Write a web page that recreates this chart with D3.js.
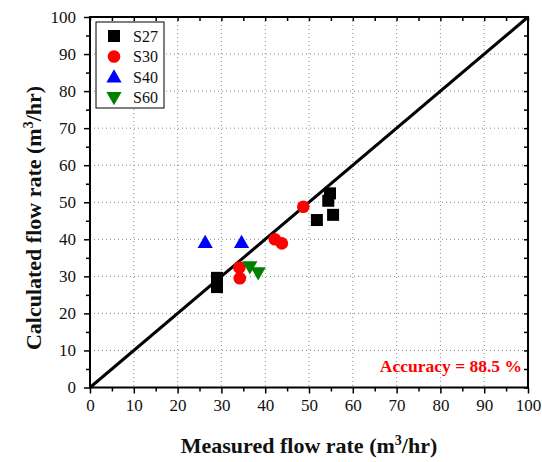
<!DOCTYPE html>
<html>
<head>
<meta charset="utf-8">
<script src="https://cdn.jsdelivr.net/npm/d3@7"></script>
<style>
  html, body { margin: 0; padding: 0; background: #fff; }
  svg { display: block; }
  svg text { font-family: "Liberation Serif", "Times New Roman", serif !important; }
</style>
</head>
<body>
<svg id="chart" width="542" height="462"></svg>
<script>
// Measured vs. calculated flow rate (m3/hr) per configuration
const seriesNames = ["S27", "S30", "S40", "S60"];
const s27Measured   = [29.0, 29.0, 54.8, 54.4, 51.8, 55.5];
const s27Calculated = [29.6, 27.1, 52.4, 50.4, 45.2, 46.6];
const s30Measured   = [48.7, 42.2, 43.8, 34.1, 34.2];
const s30Calculated = [48.8, 40.0, 38.9, 32.4, 29.5];
const s40Measured   = [26.3, 34.6];
const s40Calculated = [39.1, 39.1];
const s60Measured   = [36.5, 38.4];
const s60Calculated = [32.6, 31.0];
const majorTicks = [0, 10, 20, 30, 40, 50, 60, 70, 80, 90, 100];
const minorTicks = [5, 15, 25, 35, 45, 55, 65, 75, 85, 95];
const accuracyLabel = "Accuracy = 88.5 %";

const series = [
  { name: seriesNames[0], x: s27Measured, y: s27Calculated, color: "#000000", shape: "square" },
  { name: seriesNames[1], x: s30Measured, y: s30Calculated, color: "#ff0000", shape: "circle" },
  { name: seriesNames[2], x: s40Measured, y: s40Calculated, color: "#0000ff", shape: "up" },
  { name: seriesNames[3], x: s60Measured, y: s60Calculated, color: "#008000", shape: "down" }
];

const svg = d3.select("#chart");
const L = 90, R = 528, T = 17, B = 387.5;
const x = d3.scaleLinear().domain([0, 100]).range([L, R]);
const y = d3.scaleLinear().domain([0, 100]).range([B, T]);

// dotted grid at the major ticks
const grid = svg.append("g").attr("stroke", "#8a8a8a").attr("stroke-width", 1)
  .attr("stroke-dasharray", "1,3");
majorTicks.slice(1, -1).forEach(v => {
  grid.append("line").attr("x1", x(v)).attr("x2", x(v)).attr("y1", T).attr("y2", B);
  grid.append("line").attr("x1", L).attr("x2", R).attr("y1", y(v)).attr("y2", y(v));
});

// 1:1 line
svg.append("line")
  .attr("x1", x(0)).attr("y1", y(0)).attr("x2", x(100)).attr("y2", y(100))
  .attr("stroke", "#000").attr("stroke-width", 3);

// axes
function styleAxis(g) {
  g.attr("font-family", null);
  g.select(".domain").remove();
  g.selectAll("line").attr("stroke", "#000").attr("stroke-width", 1.5);
  g.selectAll("text").attr("fill", "#111").style("font-size", "17px");
}
svg.append("g").attr("transform", `translate(0,${B})`)
  .call(d3.axisBottom(x).tickValues(majorTicks).tickSize(6).tickPadding(5).tickFormat(d3.format("d")))
  .call(styleAxis);
svg.append("g").attr("transform", `translate(0,${B})`)
  .call(d3.axisBottom(x).tickValues(minorTicks).tickSize(4).tickFormat(""))
  .call(styleAxis);
svg.append("g").attr("transform", `translate(${L},0)`)
  .call(d3.axisLeft(y).tickValues(majorTicks).tickSize(6).tickPadding(8).tickFormat(d3.format("d")))
  .call(styleAxis);
svg.append("g").attr("transform", `translate(${L},0)`)
  .call(d3.axisLeft(y).tickValues(minorTicks).tickSize(4).tickFormat(""))
  .call(styleAxis);
// inward ticks on top and right edges
svg.append("g").attr("transform", `translate(0,${T})`)
  .call(d3.axisBottom(x).tickValues(majorTicks.concat(minorTicks)).tickSize(4).tickFormat(""))
  .call(styleAxis);
svg.append("g").attr("transform", `translate(${R},0)`)
  .call(d3.axisRight(y).tickValues(majorTicks.concat(minorTicks)).tickSize(-4).tickFormat(""))
  .call(styleAxis);

// frame
svg.append("rect").attr("x", L).attr("y", T).attr("width", R - L).attr("height", B - T)
  .attr("fill", "none").attr("stroke", "#000").attr("stroke-width", 2);

// markers
const symbolFor = {
  square: d3.symbol().type(d3.symbolSquare).size(144),
  circle: d3.symbol().type(d3.symbolCircle).size(125),
  up: d3.symbol().type(d3.symbolTriangle).size(100),
  down: d3.symbol().type(d3.symbolTriangle).size(100)
};
function markerTransform(shape, px, py) {
  if (shape === "up") return `translate(${px},${py + 1})`;
  if (shape === "down") return `translate(${px},${py - 1}) rotate(180)`;
  return `translate(${px},${py})`;
}
series.forEach(s => {
  svg.append("g").selectAll("path")
    .data(s.x.map((v, i) => [v, s.y[i]]))
    .join("path")
    .attr("d", symbolFor[s.shape]())
    .attr("transform", d => markerTransform(s.shape, x(d[0]), y(d[1])))
    .attr("fill", s.color);
});

// legend
const lg = svg.append("g");
lg.append("rect").attr("x", 96).attr("y", 22).attr("width", 68).attr("height", 86)
  .attr("fill", "#fff").attr("stroke", "#000").attr("stroke-width", 1);
series.forEach((s, i) => {
  const cy = 36 + i * 20.5;
  lg.append("path").attr("d", symbolFor[s.shape]())
    .attr("transform", markerTransform(s.shape, 114, cy)).attr("fill", s.color);
  lg.append("text").attr("x", 133).attr("y", cy + 5.5).style("font-size", "16px")
    .attr("fill", "#111").text(s.name);
});

// accuracy annotation
svg.append("text").attr("x", 522).attr("y", 372).attr("text-anchor", "end")
  .style("font-size", "17.5px").attr("font-weight", "bold").attr("fill", "#ff0000")
  .text(accuracyLabel);

// axis titles
const xt = svg.append("text").attr("x", (L + R) / 2).attr("y", 453).attr("text-anchor", "middle")
  .style("font-size", "22px").attr("font-weight", "bold").attr("fill", "#111");
xt.append("tspan").text("Measured flow rate (m");
xt.append("tspan").attr("dy", -8).style("font-size", "14px").text("3");
xt.append("tspan").attr("dy", 8).text("/hr)");

const yt = svg.append("text").attr("transform", "translate(41,218) rotate(-90)")
  .attr("text-anchor", "middle")
  .style("font-size", "22px").attr("font-weight", "bold").attr("fill", "#111");
yt.append("tspan").text("Calculated flow rate (m");
yt.append("tspan").attr("dy", -8).style("font-size", "14px").text("3");
yt.append("tspan").attr("dy", 8).text("/hr)");
</script>
</body>
</html>
